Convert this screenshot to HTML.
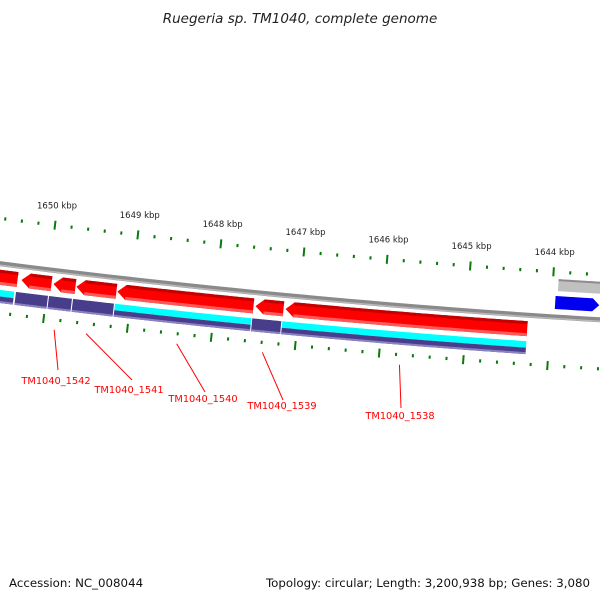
<!DOCTYPE html>
<html><head><meta charset="utf-8">
<style>
html,body{margin:0;padding:0;background:#fff;}
svg{display:block;font-family:"DejaVu Sans","Liberation Sans",sans-serif;}
</style></head>
<body>
<svg id="map" width="600" height="600" viewBox="0 0 600 600">
<rect width="600" height="600" fill="#fff"/>
<text x="300" y="23" text-anchor="middle" font-size="13.5" font-style="italic" fill="#222">Ruegeria sp. TM1040, complete genome</text>
<text x="9" y="587" font-size="11.8" fill="#111">Accession: NC_008044</text>
<text x="590" y="587" text-anchor="end" font-size="11.8" fill="#111">Topology: circular; Length: 3,200,938 bp; Genes: 3,080</text>
<g id="layer"></g>
</svg>
<script>
// data (positions in kbp)
const majorTicks = [1651, 1650, 1649, 1648, 1647, 1646, 1645, 1644, 1643];
const tickLabels = ["1651 kbp","1650 kbp","1649 kbp","1648 kbp","1647 kbp","1646 kbp","1645 kbp","1644 kbp","1643 kbp"];
const minorStep = 0.2;
const revGeneStart = [1650.364, 1649.957, 1649.670, 1649.179, 1647.538, 1647.179, 1644.269];
const revGeneEnd   = [1650.70,  1650.317, 1649.933, 1649.658, 1649.167, 1647.514, 1647.155];
const revGeneTip   = [false, true, true, true, true, true, true];
const segStart = [1650.384, 1649.981, 1649.694, 1649.191, 1647.550, 1647.191, 1644.269];
const segEnd   = [1650.70,  1650.364, 1649.969, 1649.681, 1649.179, 1647.538, 1647.179];
const segCyan  = [true, false, false, false, true, false, true];
const fwdStart = [1643.957];
const fwdEnd   = [1643.40];
const greyStart = [1643.933];
const greyEnd = [1643.40];
const geneNames = ["TM1040_1542","TM1040_1541","TM1040_1540","TM1040_1539","TM1040_1538"];
const geneMid = [1649.86, 1649.48, 1648.40, 1647.38, 1645.75];

const CX = 1141, CY = -8704, TH0 = -0.12103, DTH = 0.00928;
function ang(p){ return TH0 + (1650 - p) * DTH; }
function pt(p, r){ const t = ang(p); return [CX + r*Math.sin(t), CY + r*Math.cos(t)]; }
const NS = "http://www.w3.org/2000/svg";
const layer = document.getElementById('layer');
function mk(tag, attrs){ const e = document.createElementNS(NS, tag); for (const k in attrs) e.setAttribute(k, attrs[k]); layer.appendChild(e); return e; }
function arcPts(p1, p2, r){ const a=[]; const n=40; for(let i=0;i<=n;i++){ const p=p1+(p2-p1)*i/n; a.push(pt(p,r)); } return a; }
function band(p1, p2, r1, r2){
  const a = arcPts(p1,p2,r1).concat(arcPts(p2,p1,r2));
  return a.map(q=>q[0].toFixed(2)+','+q[1].toFixed(2)).join(' ');
}
function arrowLeft(pEnd, pStart, r1, r2, head){
  const hp = pEnd - head;
  const a = [pt(pEnd,(r1+r2)/2)].concat(arcPts(hp,pStart,r1)).concat(arcPts(pStart,hp,r2));
  return a.map(q=>q[0].toFixed(2)+','+q[1].toFixed(2)).join(' ');
}
function arrowRight(pStart, pEnd, r1, r2, head){
  const hp = pEnd + head;
  const a = arcPts(pStart,hp,r1).concat([pt(pEnd,(r1+r2)/2)]).concat(arcPts(hp,pStart,r2));
  return a.map(q=>q[0].toFixed(2)+','+q[1].toFixed(2)).join(' ');
}
function arcPath(p1,p2,r){ return 'M'+arcPts(p1,p2,r).map(q=>q[0].toFixed(2)+','+q[1].toFixed(2)).join(' L'); }

for (let p = 1651.0; p >= 1642.99; p -= minorStep) {
  const pr = Math.round(p*10)/10;
  const major = Math.abs(pr - Math.round(pr)) < 0.01;
  [[8995,'outer'],[9089,'inner']].forEach(([r,row])=>{
    const h = major ? 4.5 : 1.6;
    const a = pt(pr, r-h), b = pt(pr, r+h);
    const l = mk('line',{x1:a[0],y1:a[1],x2:b[0],y2:b[1],stroke:'#0a7a0a','stroke-width':2});
    
    
  });
}
majorTicks.forEach((p,i)=>{
  const q = pt(p, 8978);
  const t = mk('text',{x:q[0],y:q[1],'text-anchor':'middle','font-size':8.5,fill:'#222'});
  t.textContent = tickLabels[i];
  
  
});

let bb = mk('path',{d:arcPath(1651,1643,9040),stroke:'#8a8a8a','stroke-width':5,fill:'none'});


let bb2 = mk('path',{d:arcPath(1651,1643,9041.5),stroke:'#b8b8b8','stroke-width':1.5,fill:'none'});



revGeneStart.forEach((s,i)=>{
  const e = revGeneEnd[i];
  const head = revGeneTip[i] ? 0.1 : 0;
  const g = mk('polygon',{points: arrowLeft(e, s, 9046, 9061, head), fill:'#ff0000'});
  
  
  const top = mk('polygon',{points: band(e-head, s, 9046, 9049), fill:'#c40000'});
  
  
  const bot = mk('polygon',{points: band(e-head, s, 9058, 9061), fill:'#ff5a5a'});
  
  
});

segStart.forEach((s,i)=>{
  const e = segEnd[i];
  if (segCyan[i]) {
    const c = mk('polygon',{points: band(e, s, 9066, 9072.5), fill:'#00ffff'});
    
    
    const pu = mk('polygon',{points: band(e, s, 9072.5, 9079), fill:'#483d8b'});
    
    
  } else {
    const pu = mk('polygon',{points: band(e, s, 9066, 9079), fill:'#483d8b'});
    
    
  }
  const lt = mk('polygon',{points: band(e, s, 9077, 9079), fill:'#8a82c0'});
  
  
});

greyStart.forEach((s,i)=>{
  const g = mk('polygon',{points: band(s, greyEnd[i], 9002, 9014), fill:'#c0c0c0'});
  
  
  const g2 = mk('polygon',{points: band(s, greyEnd[i], 9002, 9004), fill:'#8c8c8c'});
  
  
});
fwdStart.forEach((s,i)=>{
  const b = mk('polygon',{points: arrowRight(s, 1643.43, 9019, 9032, 0.08), fill:'#0000ee'});
  
  
  const b2 = mk('polygon',{points: band(1643.41, fwdEnd[i], 9019, 9032), fill:'#00008b'});
  
  
});

// label placement (layout only)
const labX = [56, 129, 203, 282, 400];
const labY = [384, 393, 402, 409, 419];
const leaderEnd = [[58,370],[132,380],[205,392],[283,400],[401,408]];
geneNames.forEach((n,i)=>{
  const a = pt(geneMid[i], 9099);
  const l = mk('line',{x1:a[0],y1:a[1],x2:leaderEnd[i][0],y2:leaderEnd[i][1],stroke:'#ff0000','stroke-width':1});
  
  
  const t = mk('text',{x:labX[i],y:labY[i],'text-anchor':'middle','font-size':9.8,fill:'#ff0000'});
  t.textContent = n;
  
  
});
</script>
</body></html>
